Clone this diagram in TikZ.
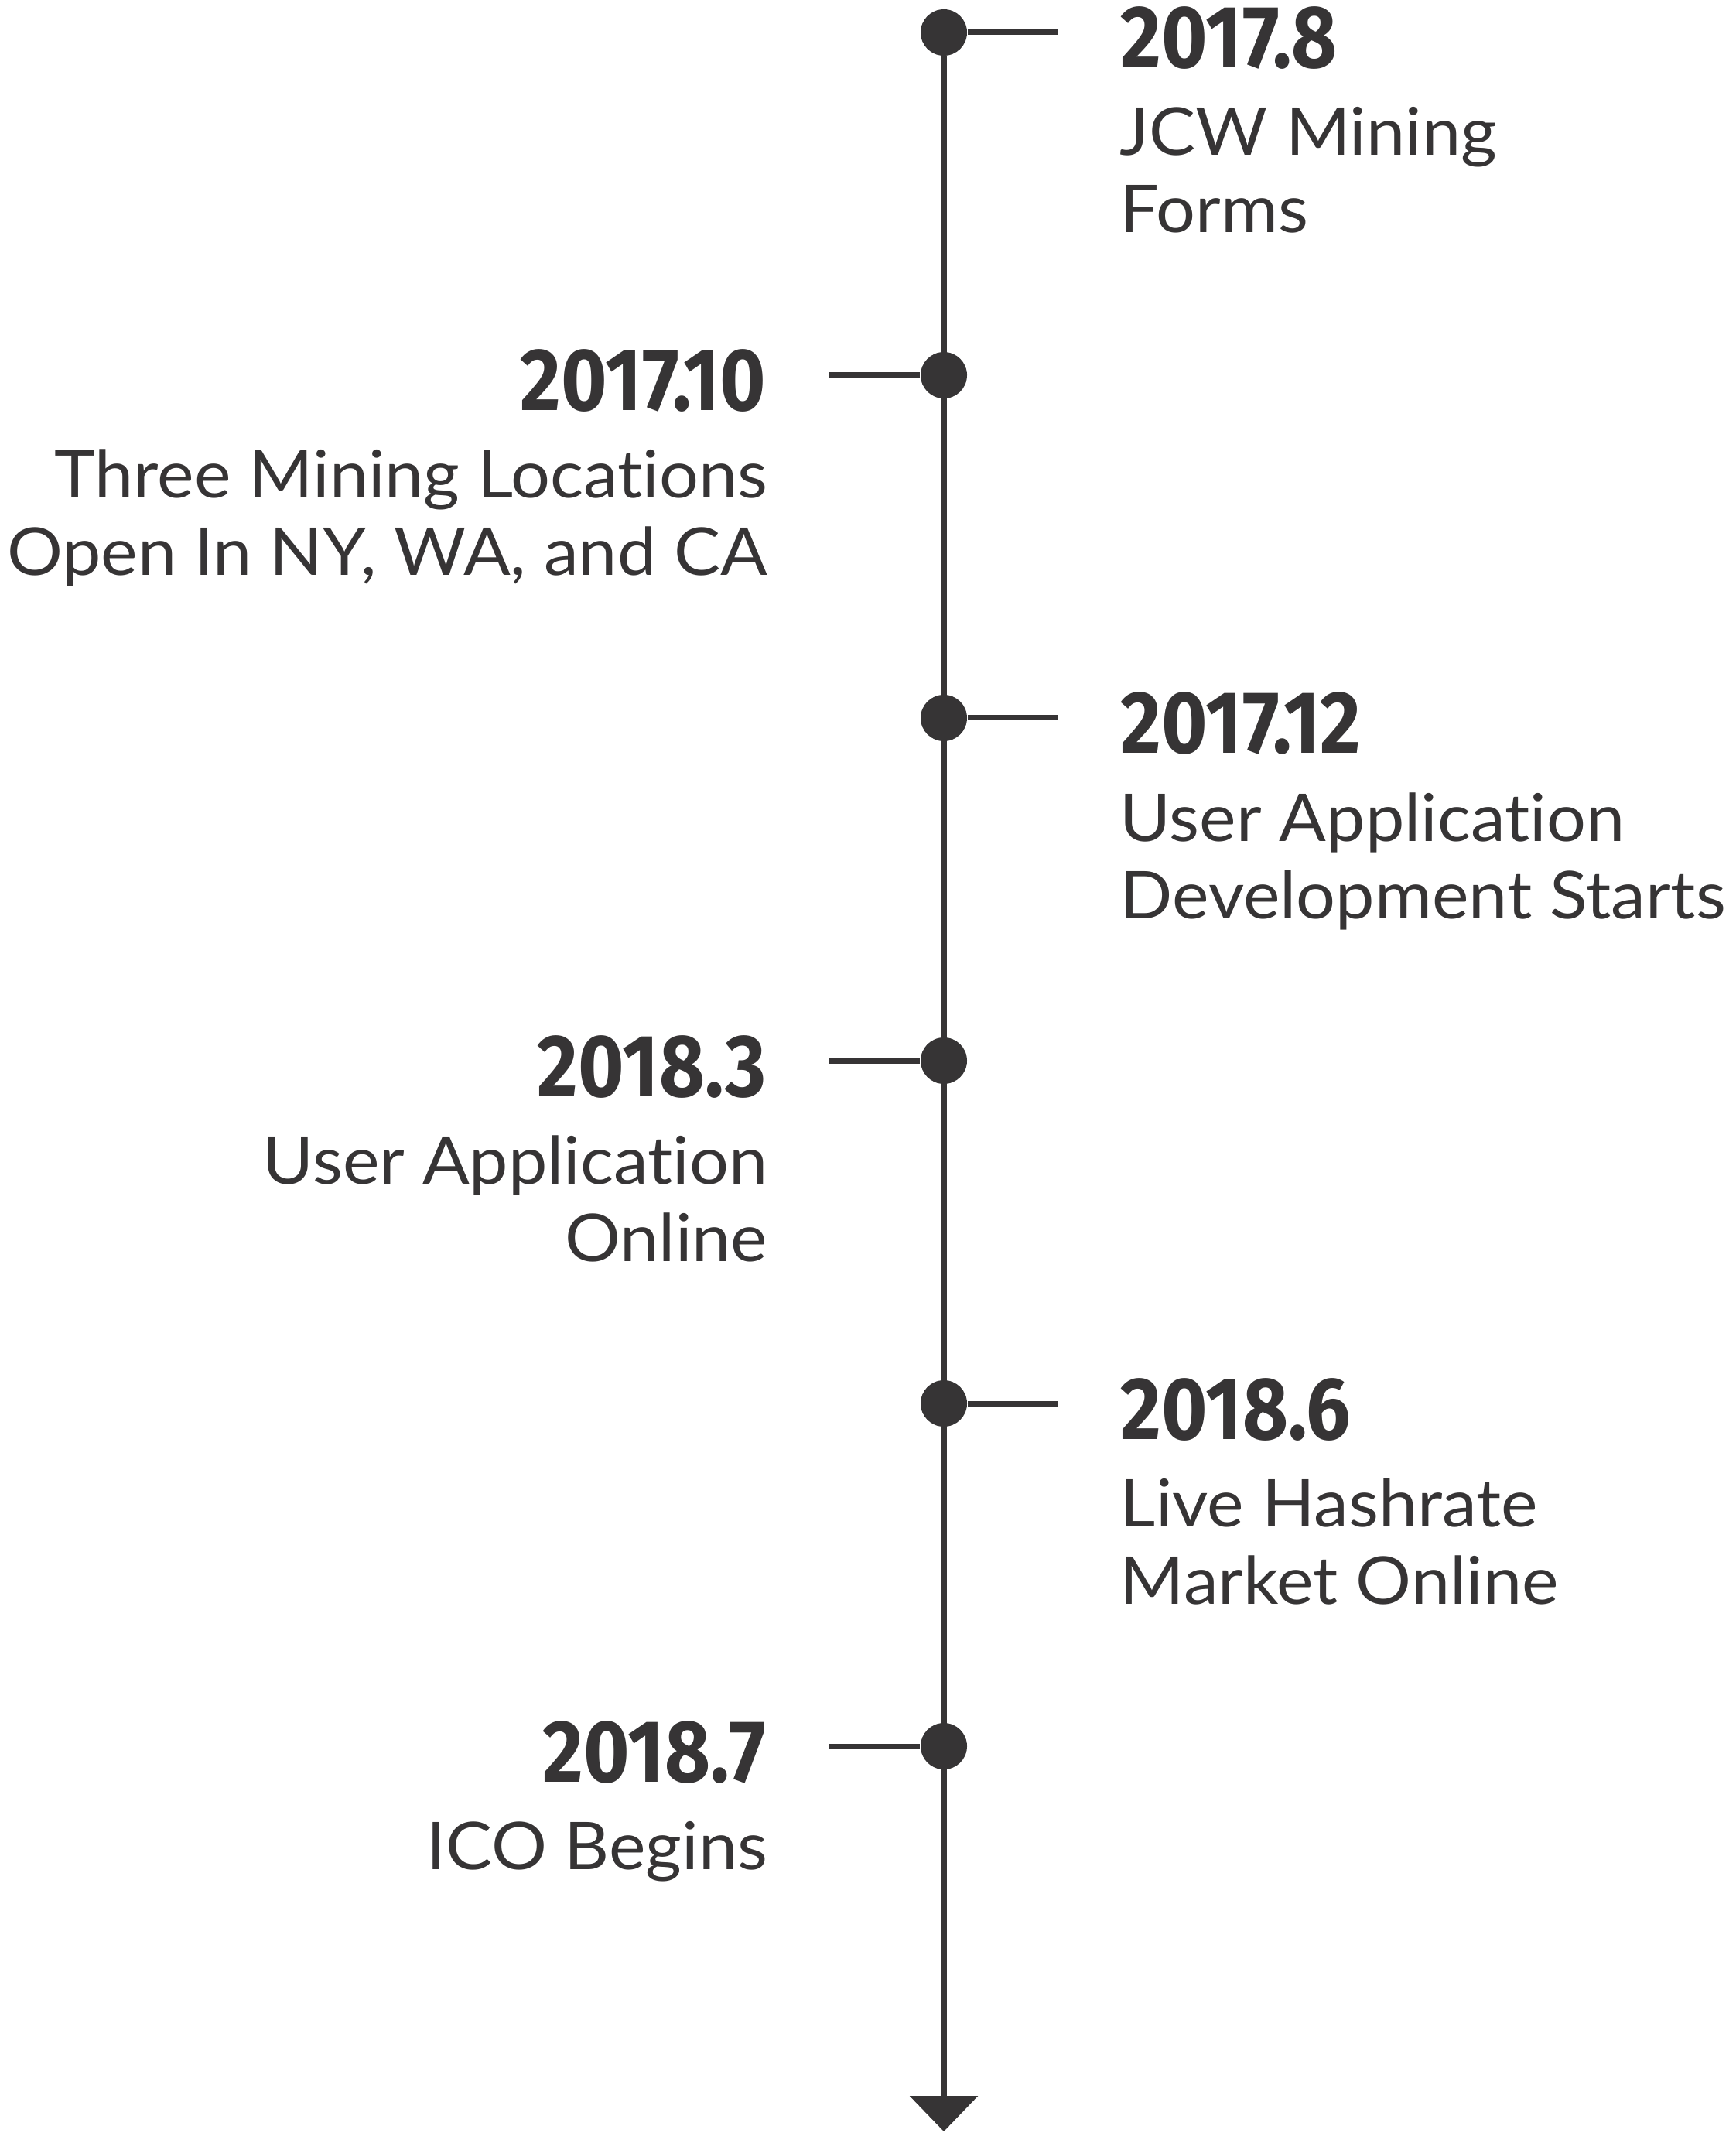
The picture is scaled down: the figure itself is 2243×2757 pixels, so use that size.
\documentclass[tikz,border=0pt]{standalone}
\usepackage{fontspec}
\setmainfont{Lato}[FakeStretch=1.055, Ligatures=NoCommon]
\newfontfamily\datefont{Fira Sans}[FakeStretch=0.89]
\usetikzlibrary{arrows.meta}
\definecolor{tlgray}{RGB}{54,52,53}

\begin{document}
\begin{tikzpicture}[
			x=0.25pt, y=-0.25pt,
			every node/.style={
				inner sep=0pt,
				text=tlgray
			},
			axis/.style={draw=tlgray, line width=1.75pt, -{Triangle[width=21.75pt, length=11.5pt]}},
			tick/.style={draw=tlgray, line width=1.75pt},
			dot/.style={circle, fill=tlgray, minimum size=15pt},
			date/.style={font=\datefont\bfseries\fontsize{28.6}{28.6}\selectfont},
			desc/.style={font=\fontsize{21.3}{25}\selectfont}
			]
			\useasboundingbox (0,0) rectangle (2243,2757);
			
			% Dots on the time line
			\node[dot] (D1) at (1220,42) {};
			\node[dot] (D2) at (1220,485) {};
			\node[dot] (D3) at (1220,928) {};
			\node[dot] (D4) at (1220,1371) {};
			\node[dot] (D5) at (1220,1814) {};
			\node[dot] (D6) at (1220,2257) {};
			\coordinate (end) at (1220,2755);
			
			% Tick ends - right and left
			\coordinate (T1) at (1368,42);
			\coordinate (T2) at (1072,485);
			\coordinate (T3) at (1368,928);
			\coordinate (T4) at (1072,1371);
			\coordinate (T5) at (1368,1814);
			\coordinate (T6) at (1072,2257);
			
			% Right side labels (base = last line)
			\node[date, anchor=base west] (Y1) at (1448,88) {2017.8};
			\node[desc, anchor=base west, align=left] (E1) at (1447,301) {JCW Mining\\Forms};
			\node[date, anchor=base west] (Y3) at (1448,974) {2017.12};
			\node[desc, anchor=base west, align=left] (E3) at (1447,1187) {User Application\\Development Starts};
			\node[date, anchor=base west] (Y5) at (1448,1860) {2018.6};
			\node[desc, anchor=base west, align=left] (E5) at (1447,2073) {Live Hashrate\\Market Online};
			
			% Left side labels
			\node[date, anchor=base east] (Y2) at (991,531) {2017.10};
			\node[desc, anchor=base east, align=right] (E2) at (993,744) {Three Mining Locations\\Open In NY, WA, and CA};
			\node[date, anchor=base east] (Y4) at (991,1417) {2018.3};
			\node[desc, anchor=base east, align=right] (E4) at (993,1630) {User Application\\Online};
			\node[date, anchor=base east] (Y6) at (991,2303) {2018.7};
			\node[desc, anchor=base east, align=right] (E6) at (993,2416) {ICO Begins};
			
			% Lines
			\draw[axis] (D1) -- (end);
			\draw[tick] (D1) -- (T1);
			\draw[tick] (D2) -- (T2);
			\draw[tick] (D3) -- (T3);
			\draw[tick] (D4) -- (T4);
			\draw[tick] (D5) -- (T5);
			\draw[tick] (D6) -- (T6);
			
		\end{tikzpicture}
\end{document}
